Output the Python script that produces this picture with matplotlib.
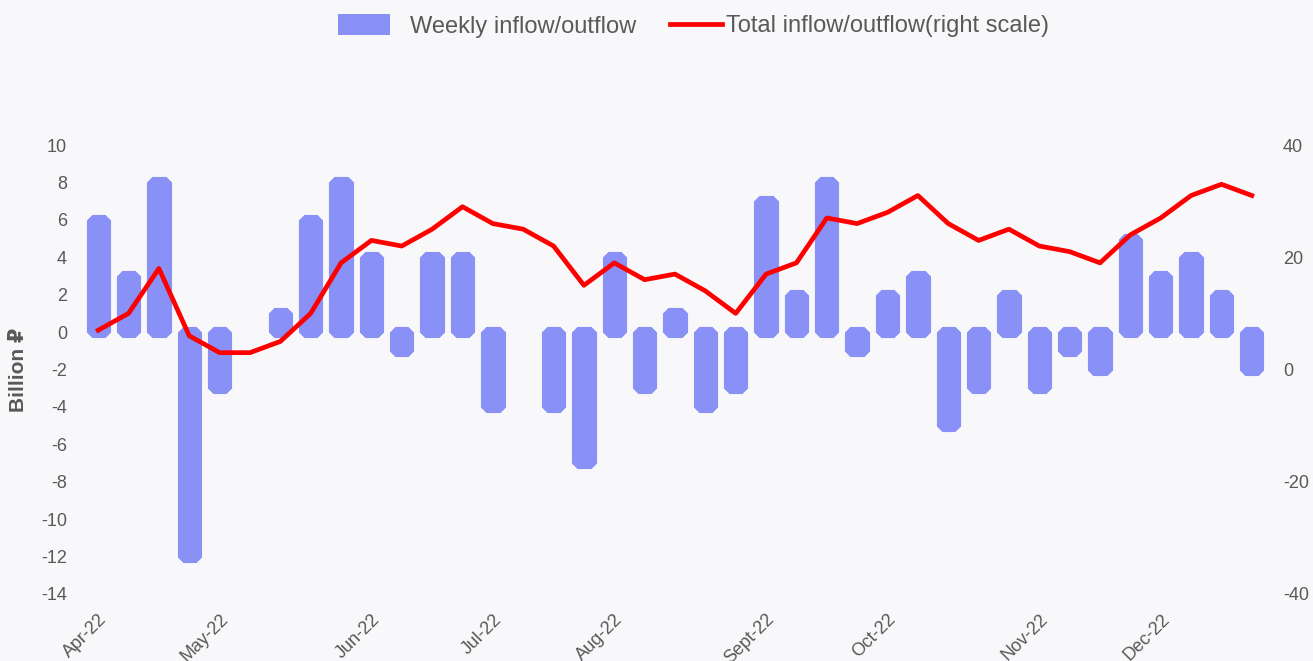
import numpy as np
import matplotlib.pyplot as plt
from matplotlib.patches import Patch
from matplotlib.lines import Line2D

plt.rcParams['font.family'] = ['Liberation Sans', 'DejaVu Sans']
plt.rcParams['axes.unicode_minus'] = False

# Weekly data, Apr-22 .. Dec-22 (39 weeks)
weekly_flow = [6, 3, 8, -12, -3, 0, 1, 6, 8, 4, -1, 4, 4, -4, 0, -4, -7, 4, -3, 1,
               -4, -3, 7, 2, 8, -1, 2, 3, -5, -3, 2, -3, -1, -2, 5, 3, 4, 2, -2]
total_flow = [7, 10, 18, 6, 3, 3, 5, 10, 19, 23, 22, 25, 29, 26, 25, 22, 15, 19, 16, 17,
              14, 10, 17, 19, 27, 26, 28, 31, 26, 23, 25, 22, 21, 19, 24, 27, 31, 33, 31]
month_labels = ["Apr-22", "May-22", "Jun-22", "Jul-22", "Aug-22",
                "Sept-22", "Oct-22", "Nov-22", "Dec-22"]
month_first_week = [0, 4, 9, 13, 17, 22, 26, 31, 35]

bg = "#F8F8FA"
bar_color = "#8991F6"
line_color = "#FF0000"
text_color = "#595959"

x = np.arange(len(weekly_flow))

fig = plt.figure(figsize=(13.13, 6.61), dpi=100, facecolor=bg)
ax = fig.add_axes([83 / 1313, 1 - 594 / 661, 1184 / 1313, 449 / 661])
ax.set_facecolor(bg)

# thick bevelled edge gives the clipped-corner bar look; skip it for empty weeks
edge_w = [0 if v == 0 else 8 for v in weekly_flow]
ax.bar(x, weekly_flow, width=0.44, color=bar_color, edgecolor=bar_color,
       linewidth=edge_w, joinstyle="bevel")

ax.set_xlim(-0.5, len(x) - 0.5)
ax.set_ylim(-14, 10)
ax.set_yticks(range(-14, 11, 2))
ax.set_xticks(month_first_week)
ax.set_xticklabels(month_labels, rotation=45, ha="right", rotation_mode="anchor")
ax.tick_params(axis="x", length=0, pad=12, labelsize=13, labelcolor=text_color)
ax.tick_params(axis="y", length=0, pad=11.5, labelsize=13, labelcolor=text_color)
ax.set_ylabel("Billion ₽", fontsize=15, fontweight="bold", color=text_color)
ax.yaxis.set_label_coords((28 - 83) / 1184, 0.5)

ax2 = ax.twinx()
ax2.plot(x, total_flow, color=line_color, linewidth=3.4)
ax2.set_ylim(-40, 40)
ax2.set_yticks([-40, -20, 0, 20, 40])
ax2.tick_params(axis="y", length=0, pad=11.5, labelsize=13, labelcolor=text_color)

for a in (ax, ax2):
    for s in a.spines.values():
        s.set_visible(False)

# two legend entries placed separately to match the spacing
leg_y = 1 - 26 / 661
fig.legend(handles=[Patch(facecolor=bar_color, edgecolor="none")],
           labels=["Weekly inflow/outflow"], loc="center left",
           bbox_to_anchor=(338 / 1313, leg_y), frameon=False, fontsize=17,
           handlelength=2.2, handleheight=1.0, handletextpad=0.85,
           borderpad=0, borderaxespad=0, labelcolor=text_color)
fig.legend(handles=[Line2D([], [], color=line_color, linewidth=3.4)],
           labels=["Total inflow/outflow(right scale)"], loc="center left",
           bbox_to_anchor=(670 / 1313, leg_y), frameon=False, fontsize=17,
           handlelength=2.2, handletextpad=0.17,
           borderpad=0, borderaxespad=0, labelcolor=text_color)

fig.savefig("out.png", dpi=100, facecolor=fig.get_facecolor())
